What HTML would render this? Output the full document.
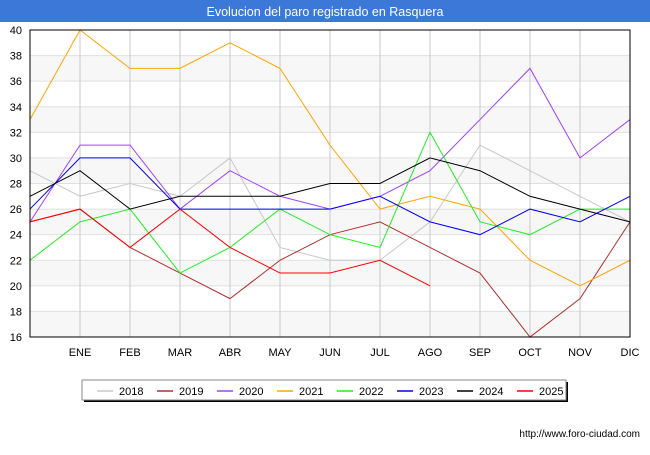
<!DOCTYPE html>
<html><head><meta charset="utf-8"><style>
body{margin:0;width:650px;height:450px;background:#fff;font-family:"Liberation Sans",sans-serif;overflow:hidden}
</style></head><body>
<svg width="650" height="450" xmlns="http://www.w3.org/2000/svg">
<rect x="0" y="0" width="650" height="22" fill="#3b78d8"/>
<text x="325" y="16" text-anchor="middle" fill="#fff" font-size="12.5">Evolucion del paro registrado en Rasquera</text>
<g id="bands"></g><g id="grid"></g><g id="series"></g><g id="axes"></g>
<rect x="30" y="30" width="600" height="307" fill="none" stroke="#000" stroke-width="1"/>
<g id="legend"></g>
<text x="640" y="437" text-anchor="end" font-size="10" fill="#000">http://www.foro-ciudad.com</text>
</svg>
<script>
const months=["","ENE","FEB","MAR","ABR","MAY","JUN","JUL","AGO","SEP","OCT","NOV","DIC"];
const yTicks=[16,18,20,22,24,26,28,30,32,34,36,38,40];
const years=["2018","2019","2020","2021","2022","2023","2024","2025"];
const colors=["#c8c8c8","#b03030","#a040ff","#ffa500","#20ee20","#0000ff","#000000","#ff0000"];
const s2018=[29,27,28,27,30,23,22,22,25,31,29,27,25];
const s2019=[25,26,23,21,19,22,24,25,23,21,16,19,25];
const s2020=[25,31,31,26,29,27,26,27,29,33,37,30,33];
const s2021=[33,40,37,37,39,37,31,26,27,26,22,20,22];
const s2022=[22,25,26,21,23,26,24,23,32,25,24,26,26];
const s2023=[26,30,30,26,26,26,26,27,25,24,26,25,27];
const s2024=[27,29,26,27,27,27,28,28,30,29,27,26,25];
const s2025=[25,26,23,26,23,21,21,22,20];
const series=[s2018,s2019,s2020,s2021,s2022,s2023,s2024,s2025];
const NS="http://www.w3.org/2000/svg";
const X=i=>30+i*50, Y=v=>337-(v-16)*307/24;
function mk(t,a,p){const e=document.createElementNS(NS,t);for(const k in a)e.setAttribute(k,a[k]);p.appendChild(e);return e;}
const bands=document.getElementById('bands'),grid=document.getElementById('grid'),axes=document.getElementById('axes');
for(let i=0;i<yTicks.length-1;i+=2){
 const b=mk('rect',{x:30,y:Y(yTicks[i]+2),width:600,height:Y(yTicks[i])-Y(yTicks[i]+2),fill:'#f7f7f7'},bands);
 
 
}
yTicks.forEach(v=>{
 const l=mk('line',{x1:30,x2:630,y1:Y(v),y2:Y(v),stroke:'#e0e0e0'},grid);
 
 
 const t=mk('text',{x:22,y:Y(v)+4,'text-anchor':'end','font-size':'11',fill:'#000'},axes);t.textContent=v;
 
 
});
months.forEach((m,i)=>{
 if(i===0)return;
 const l=mk('line',{x1:X(i),x2:X(i),y1:30,y2:337,stroke:'#c8c8c8'},grid);
 
 
 const t=mk('text',{x:X(i),y:356,'text-anchor':'middle','font-size':'11',fill:'#000'},axes);t.textContent=m;
 
 
});
const sg=document.getElementById('series');
series.forEach((s,k)=>{
 const p=mk('polyline',{points:s.map((v,i)=>X(i)+','+Y(v)).join(' '),fill:'none',stroke:colors[k],'stroke-width':1},sg);
 
 
});
const lg=document.getElementById('legend');
mk('rect',{x:84,y:382,width:484,height:20,fill:'#000'},lg);
const box=mk('rect',{x:82,y:380,width:484,height:20,fill:'#fff',stroke:'#888'},lg);


years.forEach((y,k)=>{
 const x0=97+k*60;
 const l=mk('line',{x1:x0,x2:x0+16,y1:391,y2:391,stroke:colors[k],'stroke-width':1.5},lg);
 
 
 const t=mk('text',{x:x0+22,y:395,'font-size':'11',fill:'#000'},lg);t.textContent=y;
 
 
});
</script>
</body></html>
